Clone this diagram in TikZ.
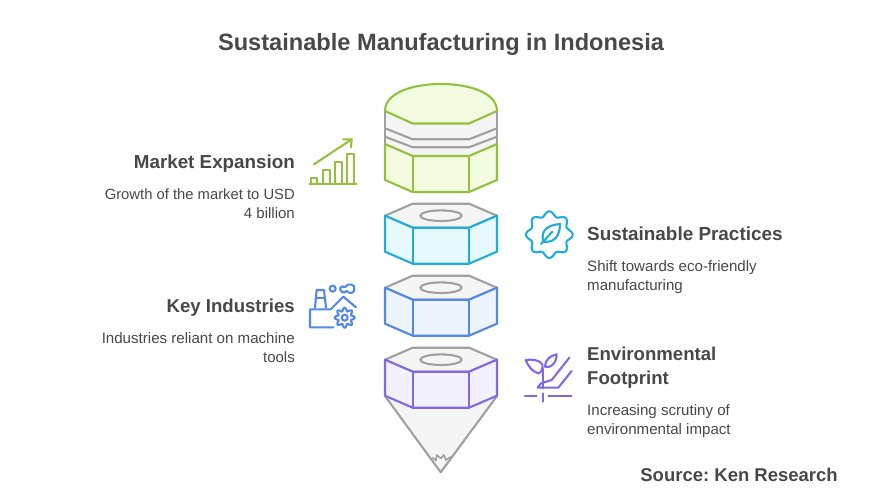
\documentclass[tikz,border=0pt]{standalone}
\usepackage{fontspec}
\setmainfont{Liberation Sans}
\definecolor{ink}{HTML}{484848}
\definecolor{gr}{HTML}{A0A0A0}
\definecolor{grf}{HTML}{F5F5F5}
\definecolor{gn}{HTML}{93C13F}
\definecolor{gnf}{HTML}{F3FCE0}
\definecolor{te}{HTML}{1FADD9}
\definecolor{tef}{HTML}{E8F9FE}
\definecolor{bl}{HTML}{5288E8}
\definecolor{blf}{HTML}{EEF4FE}
\definecolor{pu}{HTML}{8268E8}
\definecolor{puf}{HTML}{F3F1FE}
\tikzset{
  titletext/.style={text=ink,inner sep=0pt,anchor=base,font=\fontsize{23.6}{26}\selectfont\bfseries\frenchspacing},
  headl/.style={text=ink,inner sep=0pt,anchor=base east,font=\fontsize{18.8}{24}\selectfont\bfseries\frenchspacing},
  headr/.style={text=ink,inner sep=0pt,anchor=base west,font=\fontsize{18.8}{24}\selectfont\bfseries\frenchspacing},
  srctext/.style={text=ink,inner sep=0pt,anchor=base east,font=\fontsize{18.5}{24}\selectfont\bfseries\frenchspacing},
  bodyl/.style={text=ink,inner sep=0pt,anchor=base east,font=\fontsize{15}{18}\selectfont\frenchspacing},
  bodyr/.style={text=ink,inner sep=0pt,anchor=base west,font=\fontsize{15.1}{18}\selectfont\frenchspacing},
  edge/.style={line width=2.1pt,line join=round,line cap=round},
  icon/.style={line width=2.1pt,line join=round,line cap=round},
}
% \nutbody{y of outer top corners}{stroke}{fill}: slant 12, height 36
\newcommand{\nutbody}[3]{%
  \fill[#3] (385,#1) -- (412.7,#1+12) -- (469,#1+12) -- (497,#1) -- (497,#1+36) -- (469,#1+48) -- (412.7,#1+48) -- (385,#1+36) -- cycle;
  \draw[edge,#2] (412.7,#1+12) -- (412.7,#1+48) (469,#1+12) -- (469,#1+48);
  \draw[edge,#2] (385,#1) -- (412.7,#1+12) -- (469,#1+12) -- (497,#1) -- (497,#1+36) -- (469,#1+48) -- (412.7,#1+48) -- (385,#1+36) -- cycle;
}
\newcommand{\nuttop}[1]{%
  \draw[edge,gr,fill=grf] (385,#1) -- (412.7,#1-12) -- (469,#1-12) -- (497,#1) -- (469,#1+12) -- (412.7,#1+12) -- cycle;
  \draw[edge,gr] (441,#1) ellipse [x radius=20.7,y radius=5.3];
}
\begin{document}
\begin{tikzpicture}[x=1pt,y=-1pt]
\useasboundingbox (0,0) rectangle (882,497);
\fill[white] (0,0) rectangle (882,497);

\node[titletext] (title) at (441,51) {Sustainable Manufacturing in Indonesia};

% cone
\draw[edge,gr,fill=grf] (385,396) -- (440.7,472.3) -- (497,396) -- cycle;
\draw[gr,line width=1.6pt,line join=round] (432.3,457.3) -- (436,460.7) -- (436.7,455) -- (440.7,458.3) -- (444,455) -- (446,460) -- (451,456.7);

% top green cap
\fill[grf] (385,111) -- (385,144) -- (412.7,155.3) -- (469,155.3) -- (497,144) -- (497,111) -- cycle;
\draw[edge,gr] (385,111) -- (385,144) (497,111) -- (497,144);
\draw[edge,gr] (385,128.3) -- (412.7,139.3) -- (469,139.3) -- (497,128.3);
\draw[edge,gr] (385,136.7) -- (412.7,147.3) -- (469,147.3) -- (497,136.7);
\nutbody{144}{gn}{gnf}
\draw[edge,gn,fill=gnf] (385,111) .. controls (385,93) and (412,84) .. (441,84) .. controls (470,84) and (497,93) .. (497,111) -- (469,123.5) -- (412.7,123.5) -- cycle;

% nuts
\nuttop{215.7}\nutbody{215.7}{te}{tef}
\nuttop{287.7}\nutbody{287.7}{bl}{blf}
\nuttop{359.7}\nutbody{359.7}{pu}{puf}

% left and right texts
\node[headl] (h1) at (295,168) {Market Expansion};
\node[bodyl,font=\fontsize{14.8}{18}\selectfont\frenchspacing] (b1a) at (295,199) {Growth of the market to USD};
\node[bodyl] (b1b) at (295,218) {4 billion};
\node[headr,font=\fontsize{18.9}{24}\selectfont\bfseries\frenchspacing] (h2) at (587,240) {Sustainable Practices};
\node[bodyr] (b2a) at (587,271) {Shift towards eco-friendly};
\node[bodyr] (b2b) at (587,290) {manufacturing};
\node[headl,font=\fontsize{18.6}{24}\selectfont\bfseries\frenchspacing] (h3) at (295,312) {Key Industries};
\node[bodyl,font=\fontsize{15.1}{18}\selectfont\frenchspacing] (b3a) at (295,343) {Industries reliant on machine};
\node[bodyl] (b3b) at (295,362) {tools};
\node[headr,font=\fontsize{18.6}{24}\selectfont\bfseries\frenchspacing] (h4a) at (587,360) {Environmental};
\node[headr,font=\fontsize{18.6}{24}\selectfont\bfseries\frenchspacing] (h4b) at (587,384) {Footprint};
\node[bodyr] (b4a) at (587,415) {Increasing scrutiny of};
\node[bodyr] (b4b) at (587,434) {environmental impact};
\node[srctext] (src) at (838,481) {Source: Ken Research};

% icon: market
\begin{scope}[shift={(300,130)},x=0.3333pt,y=-0.3333pt,icon,gn]
\draw (28,162) -- (170,162);
\draw (33,162) -- (33,145) -- (52,145) -- (52,162);
\draw (70,162) -- (70,120) -- (90,120) -- (90,162);
\draw (106,162) -- (106,96) -- (126,96) -- (126,162);
\draw (142,162) -- (142,72) -- (162,72) -- (162,162);
\draw (42,103) -- (155,28);
\draw (130,28) -- (155,28) -- (153,52);
\end{scope}

% icon: gear leaf
\begin{scope}[shift={(515,200)},x=0.3333pt,y=-0.3333pt,icon,te]
\draw plot[domain=0:360,samples=145,smooth] ({103+(63+7*cos(8*\x))*cos(\x)},{104+(63+7*cos(8*\x))*sin(\x)}) -- cycle;
\draw (135,72) .. controls (100,75) and (75,90) .. (85,125) .. controls (120,130) and (135,105) .. (135,72) -- cycle;
\draw (78,132) -- (112,95);
\end{scope}

% icon: industry
\begin{scope}[shift={(300,275)},x=0.3333pt,y=-0.3333pt,icon,bl]
\draw (45,98) -- (50,45) -- (72,45) -- (78,98);
\draw (47,68) -- (75,68);
\draw (100,157) -- (30,157) -- (30,103) -- (92,103) -- (130,65) -- (168,97);
\draw (98,41) circle[radius=9];
\draw (125,50) .. controls (115,42) and (122,30) .. (135,36) .. controls (145,22) and (168,28) .. (163,44) .. controls (162,58) and (145,55) .. (140,48) .. controls (135,54) and (130,54) .. (125,50) -- cycle;
\draw plot[domain=0:360,samples=145,smooth] ({134+(25+5*cos(8*\x))*cos(\x)},{128+(25+5*cos(8*\x))*sin(\x)}) -- cycle;
\draw (134,128) circle[radius=9];
\end{scope}

% icon: plant hand
\begin{scope}[shift={(515,345)},x=0.3333pt,y=-0.3333pt,icon,pu]
\draw (30,152) -- (65,152) (100,152) -- (170,152) (83,145) -- (83,170);
\draw (85,130) -- (85,72);
\draw (32,45) .. controls (50,42) and (75,45) .. (82,58) .. controls (85,70) and (78,85) .. (70,85) .. controls (50,80) and (38,60) .. (32,45) -- cycle;
\draw (125,28) .. controls (105,32) and (90,45) .. (90,65) .. controls (105,72) and (125,55) .. (125,28) -- cycle;
\draw (163,38) -- (110,105) -- (78,115) -- (68,128) -- (130,128) -- (170,78);
\end{scope}
\end{tikzpicture}
\end{document}
